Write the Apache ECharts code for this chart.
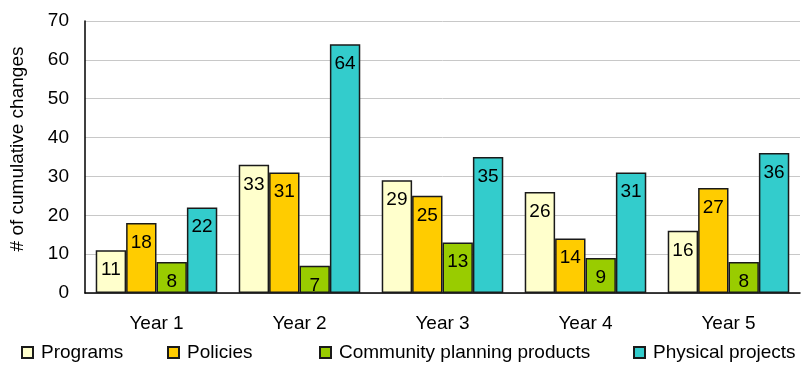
<!DOCTYPE html>
<html>
<head>
<meta charset="utf-8">
<script src="https://cdn.jsdelivr.net/npm/echarts@6/dist/echarts.min.js"></script>
<style>html,body{margin:0;padding:0;background:#fff}#c{width:801px;height:366px}</style>
</head>
<body>
<div id="c"></div>
<script>
const categories = ['Year 1', 'Year 2', 'Year 3', 'Year 4', 'Year 5'];
const programs = [11, 33, 29, 26, 16];
const policies = [18, 31, 25, 14, 27];
const community = [8, 7, 13, 9, 8];
const physical = [22, 64, 35, 31, 36];
const seriesNames = ['Programs', 'Policies', 'Community planning products', 'Physical projects'];
const colors = ['#FFFFCC', '#FFCC00', '#99CC00', '#33CCCC'];
const yTicks = {min: 0, max: 70, interval: 10};

const FONT = 'Liberation Sans, Arial, sans-serif';
const FS = 19;
const chart = echarts.init(document.getElementById('c'));
const dataSets = [programs, policies, community, physical];
const legendLefts = [16, 162, 314, 628];

chart.setOption({
  animation: false,
  textStyle: {fontFamily: FONT, color: '#000'},
  grid: {left: 84, right: 1, top: 21, bottom: 73, containLabel: false},
  legend: seriesNames.map((n, i) => ({
    data: [n], left: legendLefts[i], top: 338, itemWidth: 11, itemHeight: 11,
    icon: 'rect',
    textStyle: {fontFamily: FONT, fontSize: FS, color: '#000', padding: [0, 0, 0, 3]}
  })),
  xAxis: {
    type: 'category', data: categories,
    axisLine: {lineStyle: {color: '#000', width: 1.5}},
    axisTick: {show: false},
    axisLabel: {fontFamily: FONT, fontSize: FS, color: '#000', margin: 21}
  },
  yAxis: {
    type: 'value', min: yTicks.min, max: yTicks.max, interval: yTicks.interval,
    name: '# of cumulative changes', nameLocation: 'middle', nameGap: 58,
    nameTextStyle: {fontFamily: FONT, fontSize: FS, color: '#000', padding: [0, 0, 0, 16]},
    axisLine: {show: true, lineStyle: {color: '#000', width: 1.5}},
    axisTick: {show: false},
    axisLabel: {fontFamily: FONT, fontSize: FS, color: '#000', margin: 16},
    splitLine: {lineStyle: {color: '#c8c8c8', width: 1}}
  },
  series: seriesNames.map((n, i) => ({
    name: n, type: 'bar', data: dataSets[i],
    barGap: '0%', barCategoryGap: '15%',
    itemStyle: {color: colors[i], borderColor: '#1a1a1a', borderWidth: 1.5},
    label: {show: true, position: 'insideTop', distance: 10, fontFamily: FONT, fontSize: FS, color: '#000'}
  }))
});
</script>
</body>
</html>
